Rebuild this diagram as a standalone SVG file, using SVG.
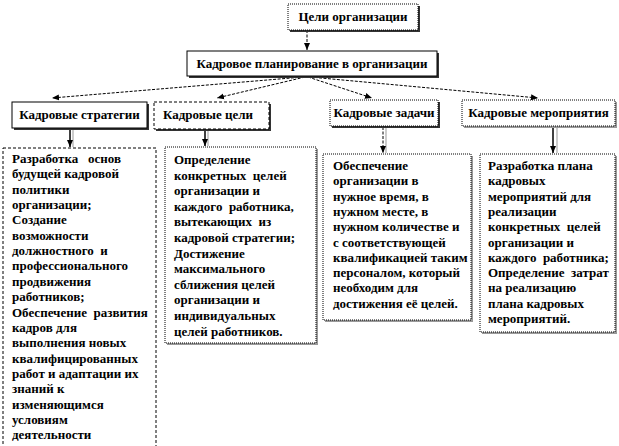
<svg xmlns="http://www.w3.org/2000/svg" width="619" height="446" viewBox="0 0 619 446">
<defs>
<marker id="ah" markerWidth="8" markerHeight="8" refX="7" refY="4" orient="auto" markerUnits="userSpaceOnUse">
<path d="M0,1 L7,4 L0,7 Z" fill="#000"/>
</marker>
<style>
text{font-family:"Liberation Serif","Times New Roman",serif;font-weight:bold;font-size:13px;fill:#000}
.pre{white-space:pre}
.box{fill:#fff;stroke:#000;stroke-width:1}
.dot{fill:#fff;stroke:#000;stroke-width:1;stroke-dasharray:1 1}
.dash{fill:#fff;stroke:#000;stroke-width:1;stroke-dasharray:3 2}
.sh{fill:#333}
.shl{fill:#999}
.con{stroke:#000;stroke-width:1;fill:none;stroke-dasharray:3 1.5}
.vert{stroke:#000;stroke-width:1.5;fill:none}
.vsh{stroke:#999;stroke-width:1;fill:none}
</style>
</defs>

<g id="connectors">
<line class="con" x1="307" y1="30" x2="307" y2="50" marker-end="url(#ah)"/>
<line class="con" x1="303" y1="77" x2="52" y2="98" marker-end="url(#ah)"/>
<line class="con" x1="305" y1="77" x2="217" y2="98" marker-end="url(#ah)"/>
<line class="con" x1="308" y1="77" x2="372" y2="98" marker-end="url(#ah)"/>
<line class="con" x1="310" y1="77" x2="538" y2="98" marker-end="url(#ah)"/>
<line class="vsh" x1="73" y1="129" x2="73" y2="147"/>
<line class="vert" x1="70" y1="129" x2="70" y2="147" marker-end="url(#ah)"/>
<line class="vsh" x1="208" y1="131" x2="208" y2="146"/>
<line class="vert" x1="205" y1="131" x2="205" y2="146" marker-end="url(#ah)"/>
<line class="vsh" x1="386" y1="127" x2="386" y2="153"/>
<line class="con" x1="383" y1="127" x2="383" y2="153" marker-end="url(#ah)"/>
<line class="vsh" x1="557" y1="127" x2="557" y2="153"/>
<line class="vert" x1="553" y1="127" x2="553" y2="153" marker-end="url(#ah)"/>
</g>

<g id="n-goals">
<rect class="sh" x="290" y="6" width="130" height="26"/>
<rect class="dot" x="288" y="4" width="130" height="26"/>
<text x="353" y="21" text-anchor="middle">Цели организации</text>
</g>

<g id="n-planning">
<rect class="sh" x="189" y="53" width="250" height="25"/>
<rect class="box" x="187" y="51" width="250" height="25"/>
<text x="312" y="68" text-anchor="middle">Кадровое планирование в организации</text>
</g>

<g id="n-strategy">
<rect class="sh" x="14" y="104" width="135" height="26"/>
<rect class="box" x="12" y="102" width="135" height="26"/>
<text x="79.5" y="119" text-anchor="middle">Кадровые стратегии</text>
</g>

<g id="n-targets">
<rect class="sh" x="156" y="104" width="115" height="27"/>
<rect class="dash" x="154" y="102" width="115" height="27"/>
<text x="163" y="119">Кадровые цели</text>
</g>

<g id="n-tasks">
<rect class="sh" x="332" y="102" width="108" height="26"/>
<rect class="dot" x="330" y="100" width="108" height="26"/>
<text x="384" y="117" text-anchor="middle">Кадровые задачи</text>
</g>

<g id="n-events">
<rect class="shl" x="464" y="102" width="153" height="26"/>
<rect class="dot" x="462" y="100" width="153" height="26"/>
<text x="538.5" y="117" text-anchor="middle">Кадровые мероприятия</text>
</g>

<g id="d-strategy">
<rect class="dash" x="3" y="148" width="153" height="310"/>
<text x="12" class="pre">
<tspan x="12" y="163">Разработка   основ</tspan>
<tspan x="12" y="178.35">будущей кадровой</tspan>
<tspan x="12" y="193.7">политики</tspan>
<tspan x="12" y="209.05">организации;</tspan>
<tspan x="12" y="224.4">Создание</tspan>
<tspan x="12" y="239.75">возможности</tspan>
<tspan x="12" y="255.1">должностного  и</tspan>
<tspan x="12" y="270.45">профессионального</tspan>
<tspan x="12" y="285.8">продвижения</tspan>
<tspan x="12" y="301.15">работников;</tspan>
<tspan x="12" y="316.5">Обеспечение  развития</tspan>
<tspan x="12" y="331.85">кадров для</tspan>
<tspan x="12" y="347.2">выполнения новых</tspan>
<tspan x="12" y="362.55">квалифицированных</tspan>
<tspan x="12" y="377.9">работ и адаптации их</tspan>
<tspan x="12" y="393.25">знаний к</tspan>
<tspan x="12" y="408.6">изменяющимся</tspan>
<tspan x="12" y="423.95">условиям</tspan>
<tspan x="12" y="439.3">деятельности</tspan>
</text>
</g>

<g id="d-targets">
<rect class="shl" x="167" y="149" width="151" height="196"/>
<rect class="dot" x="165" y="147" width="151" height="196"/>
<text x="174" class="pre">
<tspan x="174" y="164">Определение</tspan>
<tspan x="174" y="179.6">конкретных  целей</tspan>
<tspan x="174" y="195.2">организации и</tspan>
<tspan x="174" y="210.8">каждого  работника,</tspan>
<tspan x="174" y="226.4">вытекающих  из</tspan>
<tspan x="174" y="242">кадровой стратегии;</tspan>
<tspan x="174" y="257.6">Достижение</tspan>
<tspan x="174" y="273.2">максимального</tspan>
<tspan x="174" y="288.8">сближения целей</tspan>
<tspan x="174" y="304.4">организации и</tspan>
<tspan x="174" y="320">индивидуальных</tspan>
<tspan x="174" y="335.6">целей работников.</tspan>
</text>
</g>

<g id="d-tasks">
<rect class="shl" x="325" y="156" width="148" height="166"/>
<rect class="dot" x="323" y="154" width="148" height="166"/>
<text x="333">
<tspan x="333" y="170">Обеспечение</tspan>
<tspan x="333" y="185.3">организации в</tspan>
<tspan x="333" y="200.6">нужное время, в</tspan>
<tspan x="333" y="215.9">нужном месте, в</tspan>
<tspan x="333" y="231.2">нужном количестве и</tspan>
<tspan x="333" y="246.5">с соответствующей</tspan>
<tspan x="333" y="261.8">квалификацией таким</tspan>
<tspan x="333" y="277.1">персоналом, который</tspan>
<tspan x="333" y="292.4">необходим для</tspan>
<tspan x="333" y="307.7">достижения её целей.</tspan>
</text>
</g>

<g id="d-events">
<rect class="shl" x="482" y="156" width="135" height="178"/>
<rect class="dot" x="480" y="154" width="135" height="178"/>
<text x="488" class="pre">
<tspan x="488" y="170">Разработка плана</tspan>
<tspan x="488" y="185.3">кадровых</tspan>
<tspan x="488" y="200.6">мероприятий для</tspan>
<tspan x="488" y="215.9">реализации</tspan>
<tspan x="488" y="231.2">конкретных  целей</tspan>
<tspan x="488" y="246.5">организации и</tspan>
<tspan x="488" y="261.8">каждого  работника;</tspan>
<tspan x="488" y="277.1">Определение  затрат</tspan>
<tspan x="488" y="292.4">на реализацию</tspan>
<tspan x="488" y="307.7">плана кадровых</tspan>
<tspan x="488" y="323">мероприятий.</tspan>
</text>
</g>
</svg>
